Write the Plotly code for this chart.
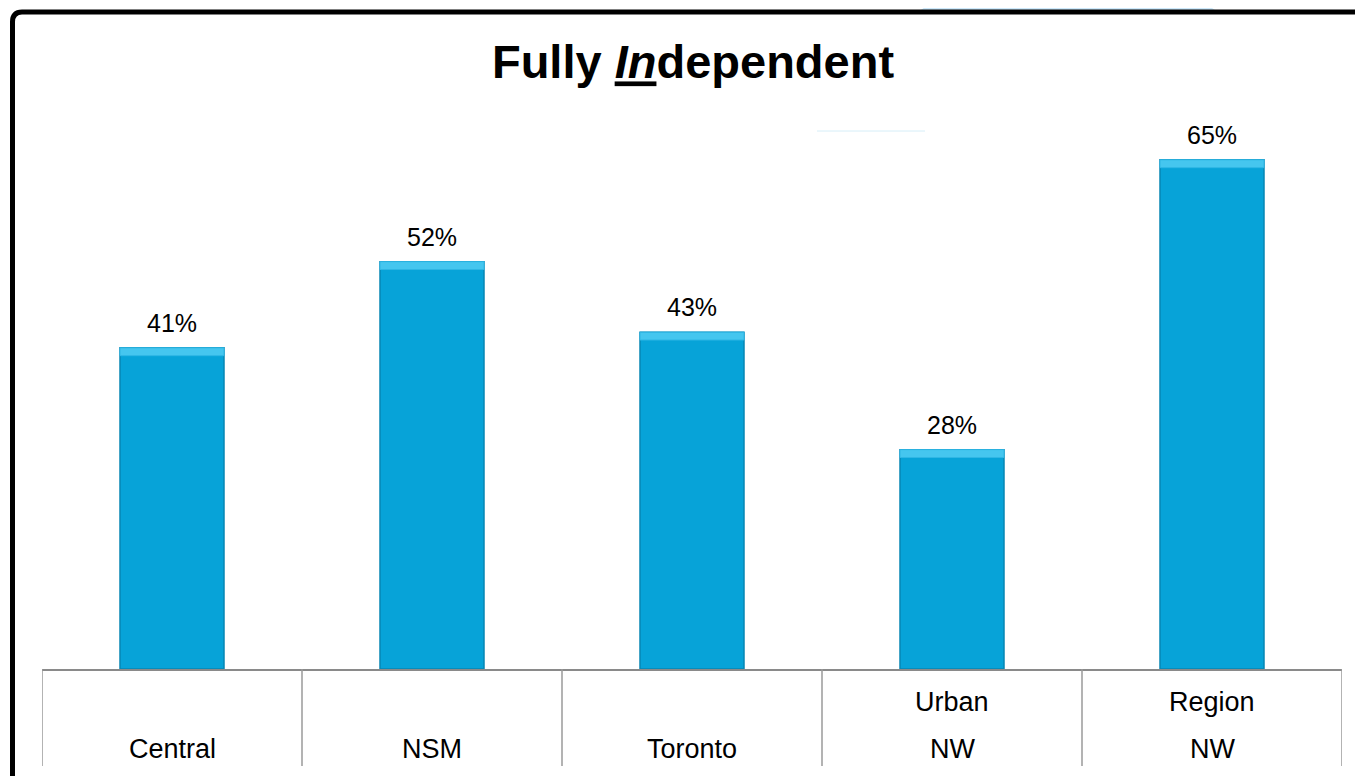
import plotly.graph_objects as go

# ---- data ----
categories = ["Central", "NSM", "Toronto", "Urban<br>NW", "Region<br>NW"]
values = [41, 52, 43, 28, 65]
value_labels = ["41%", "52%", "43%", "28%", "65%"]
title_text = "<b>Fully <i><u>In</u></i>dependent</b>"

# ---- layout geometry ----
# page body has an 8px margin: figure pixel = reference pixel - 8
OFF = 8
W, H = 1363, 776
PLOT_L, PLOT_R, PLOT_T, PLOT_B = 42 - OFF, 1342 - OFF, 105 - OFF, 669 - OFF
ML, MR, MT, MB = PLOT_L, W - PLOT_R, PLOT_T, H - PLOT_B
PW = PLOT_R - PLOT_L
PH = PLOT_B - PLOT_T
Y_MAX = 72

def xp(px):  # reference pixel -> paper
    return (px - OFF - PLOT_L) / PW

def yp(py):
    return (PLOT_B - (py - OFF)) / PH

FONT = "Arial, Liberation Sans, sans-serif"
BAR = "#07a3d8"

fig = go.Figure()
fig.add_trace(go.Bar(
    x=categories, y=values, width=0.4,
    marker=dict(color=BAR, line=dict(color="#0787b4", width=1.5)),
    hoverinfo="skip", showlegend=False,
))
# bevel highlight on top of each bar (derived from values)
cap = 1.0
fig.add_trace(go.Bar(
    x=categories, y=[cap] * len(values), base=[v - cap for v in values], width=0.4,
    marker=dict(color="#45c6ef", line=dict(color="#2fb6e4", width=1)),
    hoverinfo="skip", showlegend=False,
))

annotations = []
for c, v, lab in zip(categories, values, value_labels):
    annotations.append(dict(x=c, y=v, xref="x", yref="y", text=lab, showarrow=False,
                            yshift=25, yanchor="middle",
                            font=dict(family=FONT, size=25, color="#000")))
    lines = c.split("<br>")
    ys = [yp(749)] if len(lines) == 1 else [yp(702), yp(749)]
    for ln, yy in zip(lines, ys):
        annotations.append(dict(x=c, y=yy, xref="x", yref="paper", text=ln, showarrow=False,
                                yanchor="middle", font=dict(family=FONT, size=27, color="#000")))

shapes = []
# category dividers
for i in range(len(categories) + 1):
    shapes.append(dict(type="line", xref="x", yref="paper", x0=i - 0.5, x1=i - 0.5,
                       y0=0, y1=yp(766), line=dict(color="#9a9a9a", width=1.5)))
# faint decoration lines
shapes.append(dict(type="line", xref="paper", yref="paper", x0=xp(817), x1=xp(925),
                   y0=yp(131), y1=yp(131), line=dict(color="#d6eef8", width=1)))
shapes.append(dict(type="line", xref="paper", yref="paper", x0=xp(1205), x1=xp(1240),
                   y0=yp(131), y1=yp(131), line=dict(color="#d6f4f8", width=1)))
# light blue shape at top
shapes.append(dict(type="path", xref="paper", yref="paper", layer="below",
                   path=f"M {xp(918)},{yp(12)} L {xp(935)},{yp(0)} L {xp(1200)},{yp(0)} L {xp(1218)},{yp(12)} Z",
                   fillcolor="#cde9fb", line=dict(width=0)))
# black frame (left + top, rounded corner)
shapes.append(dict(type="path", xref="paper", yref="paper",
                   path=(f"M {xp(12.5)},{yp(790)} L {xp(12.5)},{yp(22)} "
                         f"Q {xp(12.5)},{yp(12)} {xp(22)},{yp(12)} L {xp(1380)},{yp(12)}"),
                   line=dict(color="#000", width=5)))

fig.update_layout(
    width=W, height=H,
    margin=dict(l=ML, r=MR, t=MT, b=MB),
    paper_bgcolor="white", plot_bgcolor="white",
    barmode="overlay",
    title=dict(text=title_text, x=(693 - OFF) / W, xanchor="center",
               y=1 - (62 - OFF) / H, yanchor="middle", yref="container",
               font=dict(family=FONT, size=47, color="#000")),
    xaxis=dict(range=[-0.5, len(categories) - 0.5], showticklabels=False, showgrid=False,
               zeroline=False, showline=True, linecolor="#8a8a8a", linewidth=2, fixedrange=True),
    yaxis=dict(range=[0, Y_MAX], visible=False, fixedrange=True),
    annotations=annotations, shapes=shapes,
)

fig.write_html("out.html")
